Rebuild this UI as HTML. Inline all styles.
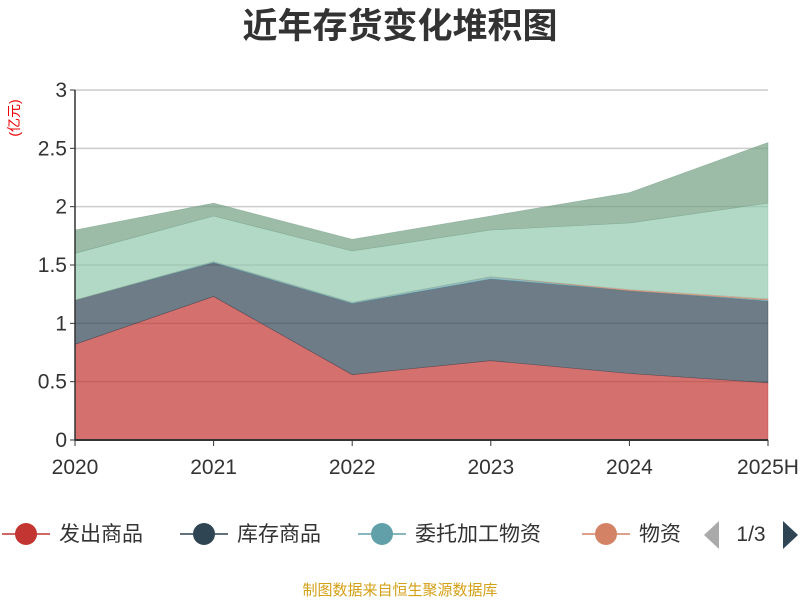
<!DOCTYPE html>
<html><head><meta charset="utf-8"><style>
body{margin:0;background:#fff;font-family:"Liberation Sans","Noto Sans CJK SC",sans-serif}
</style></head><body>
<svg id="c" width="800" height="600" xmlns="http://www.w3.org/2000/svg">
<text x="400" y="38" text-anchor="middle" font-size="35" font-weight="bold" fill="#333" font-family="Liberation Sans,Noto Sans CJK SC,sans-serif">近年存货变化堆积图</text>
<text transform="translate(19,118) rotate(-90)" text-anchor="middle" font-size="14" fill="#e00" font-family="Liberation Sans,Noto Sans CJK SC,sans-serif">(亿元)</text>
<g id="grid"></g><g id="areas"></g><g id="axes"></g>
<g id="legend" font-family="Liberation Sans,Noto Sans CJK SC,sans-serif" font-size="21" fill="#333"></g>
<text x="400" y="595" text-anchor="middle" font-size="15" fill="#d4a017" font-family="Liberation Sans,Noto Sans CJK SC,sans-serif">制图数据来自恒生聚源数据库</text>
</svg>
<script>
const categories=["2020","2021","2022","2023","2024","2025H"];
const seriesNames=["发出商品","库存商品","委托加工物资","物资","原材料","其他"];
const s0=[0.82,1.23,0.56,0.68,0.57,0.49];
const s1=[0.38,0.29,0.61,0.70,0.71,0.70];
const s2=[0.00,0.01,0.01,0.02,0.00,0.01];
const s3=[0.00,0.00,0.00,0.00,0.01,0.01];
const s4=[0.40,0.39,0.44,0.40,0.57,0.82];
const s5=[0.20,0.11,0.10,0.12,0.26,0.52];
const yTicks=["0","0.5","1","1.5","2","2.5","3"];
const colors=["#c23531","#2f4554","#61a0a8","#d48265","#91c7ae","#749f83"];
const NS="http://www.w3.org/2000/svg";
const X0=75,X1=768,Y0=440,Y1=90,YMAX=3;
const xs=i=>X0+(X1-X0)*i/(categories.length-1);
const ys=v=>Y0-(Y0-Y1)*v/YMAX;
function mk(t,a,p){const e=document.createElementNS(NS,t);for(const k in a)e.setAttribute(k,a[k]);p.appendChild(e);return e;}
const grid=document.getElementById('grid'),axes=document.getElementById('axes'),areas=document.getElementById('areas');
yTicks.forEach(t=>{const y=ys(+t);
 if(+t>0){const l=mk('line',{x1:X0,x2:X1,y1:y,y2:y,stroke:'#ccc','stroke-width':1.5},grid);
 }
 const tk=mk('line',{x1:X0-5,x2:X0,y1:y,y2:y,stroke:'#333'},axes);
 
 const tx=mk('text',{x:X0-8,y:y+7,'text-anchor':'end','font-size':21,fill:'#333'},axes);tx.textContent=t;
 });
const all=[s0,s1,s2,s3,s4,s5];let base=categories.map(()=>0);
all.forEach((s,k)=>{const top=base.map((b,i)=>b+s[i]);
 let d='M'+top.map((v,i)=>xs(i)+','+ys(v)).join('L');
 for(let i=categories.length-1;i>=0;i--)d+='L'+xs(i)+','+ys(base[i]);d+='Z';
 const p=mk('path',{d:d,fill:colors[k],'fill-opacity':0.7,stroke:colors[k],'stroke-width':0.6,'stroke-opacity':0.6},areas);
 
 base=top;});
const ya=mk('line',{x1:X0,x2:X0,y1:Y1,y2:Y0,stroke:'#333','stroke-width':1.5},axes);

const xa=mk('line',{x1:X0,x2:X1,y1:Y0,y2:Y0,stroke:'#333','stroke-width':2},axes);

categories.forEach((c,i)=>{const tk=mk('line',{x1:xs(i),x2:xs(i),y1:Y0,y2:Y0+6,stroke:'#333'},axes);
 
 const t=mk('text',{x:xs(i),y:Y0+34,'text-anchor':'middle','font-size':21,fill:'#333'},axes);t.textContent=c;
 });
const lg=document.getElementById('legend');
const lx=[0,178,356,580];
for(let k=0;k<4;k++){const g=mk('g',{},lg);
 
 mk('line',{x1:lx[k]+2,x2:lx[k]+50,y1:534,y2:534,stroke:colors[k],'stroke-width':1.5},g);
 mk('circle',{cx:lx[k]+26,cy:534,r:11,fill:colors[k]},g);
 const t=mk('text',{x:lx[k]+59,y:541},g);t.textContent=seriesNames[k];}
const pg=mk('g',{},lg);
mk('path',{d:'M719,521L704,535L719,549Z',fill:'#aaa'},pg);
const pt=mk('text',{x:751,y:541,'text-anchor':'middle'},pg);pt.textContent='1/3';
mk('path',{d:'M783,521L798,535L783,549Z',fill:'#2f4554'},pg);
</script>
</body></html>
